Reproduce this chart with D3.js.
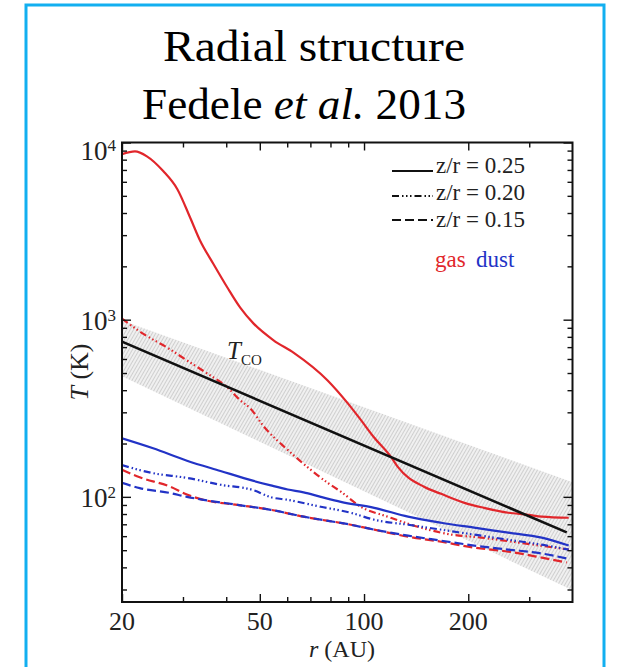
<!DOCTYPE html>
<html>
<head>
<meta charset="utf-8">
<script src="https://cdn.jsdelivr.net/npm/d3@7"></script>
<style>
  body { margin: 0; background: #fff; }
  svg { font-family: "Liberation Serif", "Times New Roman", serif; }
</style>
</head>
<body>
<div id="chart"></div>
<script>
// values: [r (AU), T (K)]
const gas025 = [[20, 8600], [21.8, 8900], [23.6, 8350], [26.3, 6900], [28.9, 5450], [31.5, 3750],
  [33.6, 2800], [36.7, 2070], [40.3, 1520], [43.9, 1170], [48, 950], [54.8, 765], [62.7, 650],
  [78.5, 454], [89.8, 337], [98, 271], [106.8, 217], [119.6, 168], [125, 148],
  [149, 114], [167, 104], [195, 92.5], [222, 86.7], [261, 81.3], [298, 79.2], [326, 77.3], [390, 76.2]];
const gas020 = [[20, 1014], [23, 834], [27, 696], [30.8, 589], [35.2, 498], [40.3, 415], [43.9, 351],
  [47, 315], [51.3, 250], [60.2, 184], [68.7, 147], [78.5, 120], [85.7, 107], [97.9, 87.9],
  [117, 77.3], [143, 67.8], [179, 61.2], [218, 58.9], [279, 55.2], [355, 51.7], [390, 50.4]];
const gas015 = [[20, 142], [22.5, 129], [27.6, 114], [30.8, 103], [34.4, 96.2], [43.1, 90.1],
  [53.8, 84.5], [66.9, 77.3], [91.6, 69.6], [107, 65.3], [134, 59.6], [167, 55.8], [208, 51.7],
  [261, 49.1], [326, 45.4], [385, 42.6]];
const dust025 = [[20, 214], [24.6, 188], [30.8, 160], [38.5, 140], [48, 123], [53.8, 116], [60.2, 110],
  [66.9, 106], [75, 100], [85.7, 93.7], [107, 86.7], [134, 77.3], [167, 71.4], [208, 67],
  [261, 62.8], [326, 58.9], [390, 53.1]];
const dust020 = [[20, 151], [24.6, 136], [30.8, 128], [38.5, 117], [48, 109], [53.8, 99.5], [60.2, 96.2],
  [75, 87.9], [91.6, 81.3], [107, 74.3], [134, 69.6], [167, 65.3], [208, 61.2], [261, 57.3],
  [326, 53.7], [390, 50.4]];
const dust015 = [[20, 120], [22.5, 112], [27.6, 105], [30.8, 100], [34.4, 96.2], [43.1, 90.1],
  [53.8, 84.5], [66.9, 77.3], [91.6, 69.6], [107, 65.3], [134, 60.4], [167, 56.6], [208, 53.1],
  [261, 50.4], [326, 47.9], [385, 44.9]];
const tcoLine = [[20, 751], [385, 63]];
const tcoUpper = [[20, 990], [400, 121]];
const tcoLower = [[20, 479], [400, 29.7]];

const xMajor = [20, 50, 100, 200];
const xMinor = [30, 40, 60, 70, 80, 90, 300];
const yMajor = [100, 1000, 10000];
const yMinor = [30, 40, 50, 60, 70, 80, 90, 200, 300, 400, 500, 600, 700, 800, 900,
  2000, 3000, 4000, 5000, 6000, 7000, 8000, 9000];
const yExponents = ["2", "3", "4"];
const legendLabels = ["z/r = 0.25", "z/r = 0.20", "z/r = 0.15"];

const width = 635, height = 667;
const plot = { left: 122, right: 572.5, top: 142.5, bottom: 602 };
const red = "#e1262b", blue = "#2233c6";
const dashDot = "7,3,1.5,2.5,1.5,2.5,1.5,3";
const dashed = "9,4";

const svg = d3.select("#chart").append("svg")
  .attr("width", width)
  .attr("height", height);

// hatch for the T_CO band
const defs = svg.append("defs");
const pat = defs.append("pattern")
  .attr("id", "hatch")
  .attr("patternUnits", "userSpaceOnUse")
  .attr("width", 3).attr("height", 3)
  .attr("patternTransform", "rotate(30)");
pat.append("rect")
  .attr("width", 3).attr("height", 3)
  .attr("fill", "#f0f0f0");
pat.append("line")
  .attr("x1", 1.5).attr("y1", 0).attr("x2", 1.5).attr("y2", 3)
  .attr("stroke", "#cfcfcf")
  .attr("stroke-width", 1);
defs.append("clipPath").attr("id", "clip")
  .append("rect")
    .attr("x", plot.left).attr("y", plot.top)
    .attr("width", plot.right - plot.left).attr("height", plot.bottom - plot.top);

// light blue frame round the slide
svg.append("rect")
  .attr("x", 26).attr("y", 5)
  .attr("width", 578).attr("height", 720)
  .attr("fill", "none")
  .attr("stroke", "#12aff0")
  .attr("stroke-width", 3);

// title
svg.append("text")
  .attr("x", 314).attr("y", 61)
  .attr("text-anchor", "middle")
  .attr("font-size", 44)
  .attr("textLength", 302).attr("lengthAdjust", "spacingAndGlyphs")
  .text("Radial structure");
const t2 = svg.append("text")
  .attr("x", 304).attr("y", 119)
  .attr("text-anchor", "middle")
  .attr("font-size", 44)
  .attr("textLength", 324).attr("lengthAdjust", "spacingAndGlyphs");
t2.append("tspan").text("Fedele ");
t2.append("tspan").attr("font-style", "italic").text("et al.");
t2.append("tspan").text(" 2013");

// scales
const x = d3.scaleLog().domain([20, 400]).range([plot.left, plot.right]);
const y = d3.scaleLog().domain([25.5, 10000]).range([plot.bottom, plot.top]);

const g = svg.append("g").attr("clip-path", "url(#clip)");

// T_CO band
const band = d3.area()
  .x((d, i) => x(tcoUpper[i][0]))
  .y0((d, i) => y(tcoLower[i][1]))
  .y1((d, i) => y(tcoUpper[i][1]));
g.append("path")
  .datum(tcoUpper)
  .attr("d", band)
  .attr("fill", "url(#hatch)");

const line = d3.line()
  .x(d => x(d[0]))
  .y(d => y(d[1]))
  .curve(d3.curveMonotoneX);

const series = [
  { data: gas015, color: red, dash: dashed },
  { data: dust015, color: blue, dash: dashed },
  { data: gas020, color: red, dash: dashDot },
  { data: dust020, color: blue, dash: dashDot },
  { data: dust025, color: blue, dash: null },
  { data: gas025, color: red, dash: null }
];
g.selectAll(".curve")
  .data(series)
  .join("path")
    .attr("class", "curve")
    .attr("d", d => line(d.data))
    .attr("fill", "none")
    .attr("stroke", d => d.color)
    .attr("stroke-width", 2.2)
    .attr("stroke-dasharray", d => d.dash);

g.append("path")
  .datum(tcoLine)
  .attr("d", line)
  .attr("fill", "none")
  .attr("stroke", "#111")
  .attr("stroke-width", 2.6);

// T_CO label
const tco = svg.append("text").attr("x", 227).attr("y", 359).attr("fill", "#222");
tco.append("tspan").attr("font-style", "italic").attr("font-size", 25).text("T");
tco.append("tspan").attr("font-size", 15).attr("dy", 6).text("CO");

// ticks on all four sides, pointing inward
function addTicks(axis, values, size, transform) {
  svg.append("g")
    .attr("transform", transform)
    .call(axis.tickValues(values).tickSize(size).tickSizeOuter(0).tickFormat(""))
    .call(a => a.select(".domain").remove())
    .call(a => a.selectAll("line").attr("stroke", "#111").attr("stroke-width", 1.4));
}
addTicks(d3.axisBottom(x), xMajor, -8, `translate(0,${plot.bottom})`);
addTicks(d3.axisBottom(x), xMinor, -5, `translate(0,${plot.bottom})`);
addTicks(d3.axisTop(x), xMajor, -8, `translate(0,${plot.top})`);
addTicks(d3.axisTop(x), xMinor, -5, `translate(0,${plot.top})`);
addTicks(d3.axisLeft(y), yMajor, -9, `translate(${plot.left},0)`);
addTicks(d3.axisLeft(y), yMinor, -5, `translate(${plot.left},0)`);
addTicks(d3.axisRight(y), yMajor, -9, `translate(${plot.right},0)`);
addTicks(d3.axisRight(y), yMinor, -5, `translate(${plot.right},0)`);

svg.append("rect")
  .attr("x", plot.left).attr("y", plot.top)
  .attr("width", plot.right - plot.left).attr("height", plot.bottom - plot.top)
  .attr("fill", "none")
  .attr("stroke", "#111")
  .attr("stroke-width", 2);

// tick labels
svg.selectAll(".xlabel")
  .data(xMajor)
  .join("text")
    .attr("class", "xlabel")
    .attr("x", d => x(d))
    .attr("y", 630)
    .attr("text-anchor", "middle")
    .attr("font-size", 26)
    .attr("fill", "#222")
    .text(d => d);

svg.selectAll(".ylabel")
  .data(yMajor)
  .join("text")
    .attr("class", "ylabel")
    .attr("x", 116)
    .attr("y", d => Math.max(y(d) + 10, 160))
    .attr("text-anchor", "end")
    .attr("font-size", 27)
    .attr("fill", "#222")
    .each(function(d, i) {
      const t = d3.select(this);
      t.append("tspan").text("10");
      t.append("tspan").attr("font-size", 17).attr("dy", -9).text(yExponents[i]);
    });

// axis titles
const xt = svg.append("text")
  .attr("x", 342).attr("y", 657)
  .attr("text-anchor", "middle")
  .attr("font-size", 24)
  .attr("fill", "#222");
xt.append("tspan").attr("font-style", "italic").text("r");
xt.append("tspan").text(" (AU)");

const yt = svg.append("text")
  .attr("transform", "translate(88,372) rotate(-90)")
  .attr("text-anchor", "middle")
  .attr("font-size", 26)
  .attr("fill", "#222");
yt.append("tspan").attr("font-style", "italic").text("T");
yt.append("tspan").text(" (K)");

// legend
const legendDash = [null, dashDot, dashed];
const legendY = [171, 196, 220];
const legend = svg.append("g");
legend.selectAll("line")
  .data(legendLabels)
  .join("line")
    .attr("x1", 392).attr("x2", 433)
    .attr("y1", (d, i) => legendY[i]).attr("y2", (d, i) => legendY[i])
    .attr("stroke", "#111")
    .attr("stroke-width", 2)
    .attr("stroke-dasharray", (d, i) => legendDash[i]);
legend.selectAll("text")
  .data(legendLabels)
  .join("text")
    .attr("x", 436)
    .attr("y", (d, i) => 173 + i * 27)
    .attr("font-size", 23)
    .attr("fill", "#222")
    .text(d => d);

svg.append("text").attr("x", 435).attr("y", 267)
  .attr("font-size", 23).attr("fill", red).text("gas");
svg.append("text").attr("x", 476).attr("y", 267)
  .attr("font-size", 23).attr("fill", blue).text("dust");
</script>
</body>
</html>
